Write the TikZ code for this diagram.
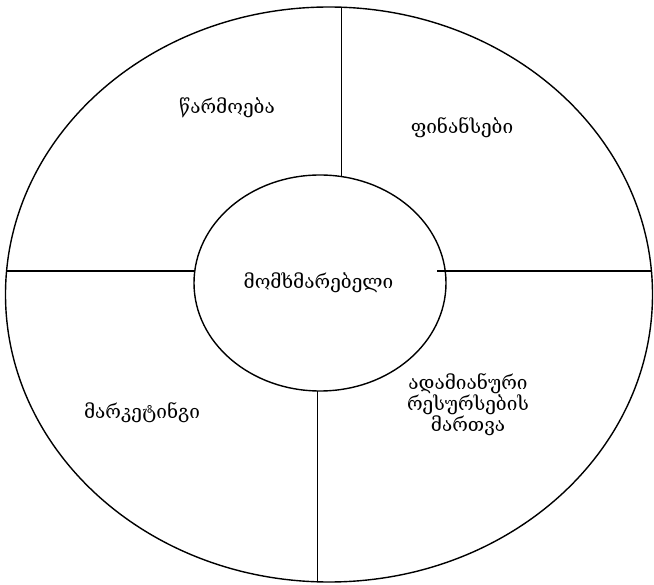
\documentclass[tikz,border=0pt]{standalone}
\usepackage{fontspec}
\setmainfont{DejaVu Serif}
\usetikzlibrary{shapes.geometric}
\begin{document}
\begin{tikzpicture}[x=1pt,y=-1pt,
  ring/.style={draw=black,line width=1.4pt,ellipse,inner sep=0pt},
  divider/.style={draw=black,line width=1.4pt},
  lbl/.style={font=\fontsize{19}{20}\selectfont,align=center,inner sep=0pt}]
\useasboundingbox (0,0) rectangle (654,585);
\node[ring,minimum width=647pt,minimum height=575pt] (outer) at (329,294.5) {};
\node[ring,minimum width=252pt,minimum height=216pt] (inner) at (320,283) {};
\coordinate (t1) at (341.7,7.2);
\coordinate (t2) at (341.7,176.6);
\coordinate (b1) at (317.7,391);
\coordinate (b2) at (317.7,581.8);
\coordinate (l1) at (6.1,271);
\coordinate (l2) at (194.8,271);
\coordinate (r1) at (437,271);
\coordinate (r2) at (651.9,271);
\draw[divider] (t1) -- (t2);
\draw[divider] (b1) -- (b2);
\draw[divider] (l1) -- (l2);
\draw[divider] (r1) -- (r2);
\node[lbl] (center) at (318.5,283) {მომხმარებელი};
\node[lbl] (prod) at (227,108) {წარმოება};
\node[lbl] (fin) at (462,128) {ფინანსები};
\node[lbl] (mark) at (142,413) {მარკეტინგი};
\node[lbl] (hr) at (468,405) {ადამიანური\\რესურსების\\მართვა};
\end{tikzpicture}
\end{document}
